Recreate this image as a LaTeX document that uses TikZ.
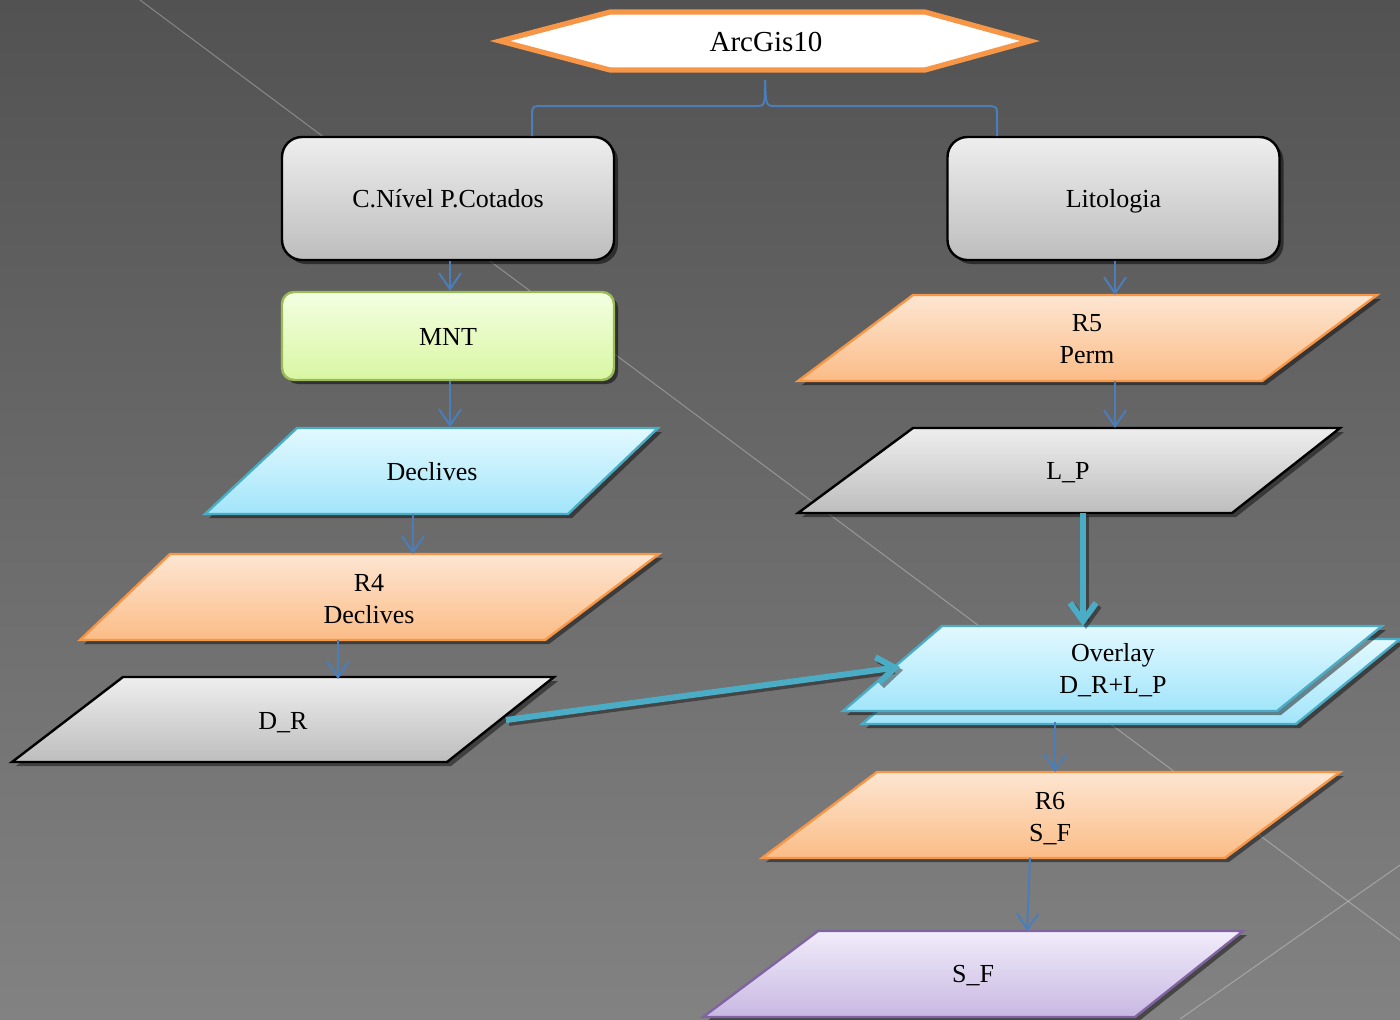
\documentclass[tikz,border=0pt]{standalone}
\usepackage{fontspec}
\setmainfont{Liberation Serif}
\usetikzlibrary{arrows.meta,shadows}
\definecolor{bgtop}{HTML}{525252}
\definecolor{bgbot}{HTML}{828282}
\definecolor{orb}{HTML}{F79646}
\definecolor{ortop}{HTML}{FDE6D2}
\definecolor{orbot}{HTML}{FBBC86}
\definecolor{blb}{HTML}{4BACC6}
\definecolor{bltop}{HTML}{E2F9FF}
\definecolor{blbot}{HTML}{A2E5FA}
\definecolor{grtop}{HTML}{EEEEEE}
\definecolor{grbot}{HTML}{BDBDBD}
\definecolor{gnb}{HTML}{9BBB59}
\definecolor{gntop}{HTML}{F4FFE2}
\definecolor{gnbot}{HTML}{D8F6A2}
\definecolor{pub}{HTML}{8064A2}
\definecolor{putop}{HTML}{F1ECFA}
\definecolor{pubot}{HTML}{C8B8E2}
\definecolor{arb}{HTML}{4A7EBB}
\newcommand\paradraw[5]{%
  \fill[black,opacity=.45] ([xshift=2pt,yshift=-2pt]#2) -- ([xshift=2pt,yshift=-2pt]#3) -- ([xshift=2pt,yshift=-2pt]#4) -- ([xshift=2pt,yshift=-2pt]#5) -- cycle;
  \path[#1] (#2) -- (#3) -- (#4) -- (#5) -- cycle;}
\begin{document}
\begin{tikzpicture}[x=0.5pt,y=-0.5pt,
  lbl/.style={font=\fontsize{13}{16}\selectfont, align=center, text=black, inner sep=0pt},
  one/.style={text height=9pt, text depth=0pt},
  orpara/.style={top color=ortop, bottom color=orbot, draw=orb, line width=1.2pt},
  blpara/.style={top color=bltop, bottom color=blbot, draw=blb, line width=1.2pt},
  grpara/.style={top color=grtop, bottom color=grbot, draw=black, line width=1.2pt},
  pupara/.style={top color=putop, bottom color=pubot, draw=pub, line width=1.2pt},
  graybox/.style={rectangle, rounded corners=10pt, top color=grtop, bottom color=grbot, draw=black, line width=1.2pt,
     minimum width=166pt, minimum height=61.5pt, inner sep=0pt, font=\fontsize{13}{16}\selectfont,
     text height=9pt, text depth=0pt,
     drop shadow={shadow xshift=2pt, shadow yshift=-2pt, opacity=.5, fill=black}},
  greenbox/.style={rectangle, rounded corners=6pt, top color=gntop, bottom color=gnbot, draw=gnb, line width=1.2pt,
     minimum width=166pt, minimum height=44pt, inner sep=0pt, font=\fontsize{13}{16}\selectfont,
     text height=9pt, text depth=0pt,
     drop shadow={shadow xshift=2pt, shadow yshift=-2pt, opacity=.5, fill=black}},
  thinarrow/.style={draw=arb, line width=1pt, -{Straight Barb[length=8pt,width=11pt,line width=1pt]}},
  thickarrow/.style={draw=blb, line width=3pt, -{Straight Barb[length=9pt,width=13pt,line width=3pt]}},
  thickshadow/.style={draw=black, opacity=.4, line width=3pt, -{Straight Barb[length=9pt,width=13pt,line width=3pt]}},
  bline/.style={draw=arb, line width=1pt}
]
% background
\shade[top color=bgtop, bottom color=bgbot] (0,0) rectangle (1400,1019);
\useasboundingbox (0,0) rectangle (1400,1019);
\draw[white, opacity=.3, line width=.5pt] (140,0) -- (1400,940);
\draw[white, opacity=.3, line width=.5pt] (1400,865) -- (1180,1019);

% ArcGis10 hexagon
\path[fill=white, draw=orb, line width=2.6pt, line join=miter] (500,41) -- (610,12) -- (925,12) -- (1030,41) -- (925,70) -- (610,70) -- cycle;
\node[lbl, one, font=\fontsize{14.5}{17}\selectfont] (arc) at (766,42) {ArcGis10};

% top boxes
\node[graybox] (cn) at (448,198.5) {C.Nível P.Cotados};
\node[graybox] (lit) at (1113.5,198.5) {Litologia};

% brace connector
\coordinate (brtip) at (765,80);
\coordinate (brl) at (532,136);
\coordinate (brr) at (997,136);
\draw[bline] (brl) -- (532,118) .. controls (532,106) .. (544,106) -- (756,106) .. controls (765,106) .. (brtip);
\draw[bline] (brtip) .. controls (766,106) .. (775,106) -- (986,106) .. controls (997,106) .. (997,118) -- (brr);

% MNT
\node[greenbox] (mnt) at (448,336) {MNT};

% Declives
\paradraw{blpara}{297,428}{658,428}{568,514}{205,514}
\node[lbl, one] (decl) at (432,471) {Declives};
% R4
\paradraw{orpara}{170,554}{659,554}{545,640}{80,640}
\node[lbl] (rfour) at (369,599) {R4\\Declives};
% D_R
\paradraw{grpara}{123,677}{554,677}{447,762}{12,762}
\node[lbl, one] (dr) at (283,720) {D\_R};

% R5
\paradraw{orpara}{913,295}{1377,295}{1262,381}{798,381}
\node[lbl] (rfive) at (1087,339) {R5\\Perm};
% L_P
\paradraw{grpara}{913,428}{1340,428}{1232,513}{798,513}
\node[lbl, one] (lp) at (1068,470) {L\_P};
% Overlay (stacked)
\paradraw{blpara}{961,639}{1400,639}{1296,724}{862,724}
\paradraw{blpara}{942,626}{1382,626}{1277,711}{843,711}
\node[lbl] (ov) at (1113,670) {Overlay\\D\_R+L\_P};
% R6
\paradraw{orpara}{877,772}{1340,772}{1225,858}{762,858}
\node[lbl] (rsix) at (1050,819) {R6\\S\_F};
% S_F
\paradraw{pupara}{818,931}{1243,931}{1135,1017}{703,1017}
\node[lbl, one] (sf) at (973,973) {S\_F};

% connector end points
\coordinate (decl-nm) at (450,427);
\coordinate (decl-s) at (413,514);
\coordinate (rfour-n) at (413,554);
\coordinate (rfour-s) at (338,640);
\coordinate (dr-n) at (338,679);
\coordinate (dr-e) at (506,720);
\coordinate (ov-w) at (900,667);
\coordinate (rfive-n) at (1115,295);
\coordinate (rfive-s) at (1115,381);
\coordinate (lp-n) at (1115,428);
\coordinate (lp-s) at (1083,513);
\coordinate (ov-n) at (1083,626);
\coordinate (ov-s) at (1055,722);
\coordinate (rsix-n) at (1055,772);
\coordinate (rsix-s) at (1030,858);
\coordinate (sf-n) at (1027,931);

% thin arrows
\draw[thinarrow] ([xshift=1pt]cn.south) -- ([xshift=1pt]mnt.north);
\draw[thinarrow] ([xshift=1pt]mnt.south) -- (decl-nm);
\draw[thinarrow] (decl-s) -- (rfour-n);
\draw[thinarrow] (rfour-s) -- (dr-n);
\draw[thinarrow] ([xshift=0.75pt]lit.south) -- (rfive-n);
\draw[thinarrow] (rfive-s) -- (lp-n);
\draw[thinarrow] (ov-s) -- (rsix-n);
\draw[thinarrow] (rsix-s) -- (sf-n);

% thick arrows
\draw[thickshadow] ([xshift=1.5pt,yshift=-1.5pt]dr-e) -- ([xshift=1.5pt,yshift=-1.5pt]ov-w);
\draw[thickarrow] (dr-e) -- (ov-w);
\draw[thickshadow] ([xshift=1.5pt,yshift=-1.5pt]lp-s) -- ([xshift=1.5pt,yshift=-1.5pt]ov-n);
\draw[thickarrow] (lp-s) -- (ov-n);
\end{tikzpicture}
\end{document}
